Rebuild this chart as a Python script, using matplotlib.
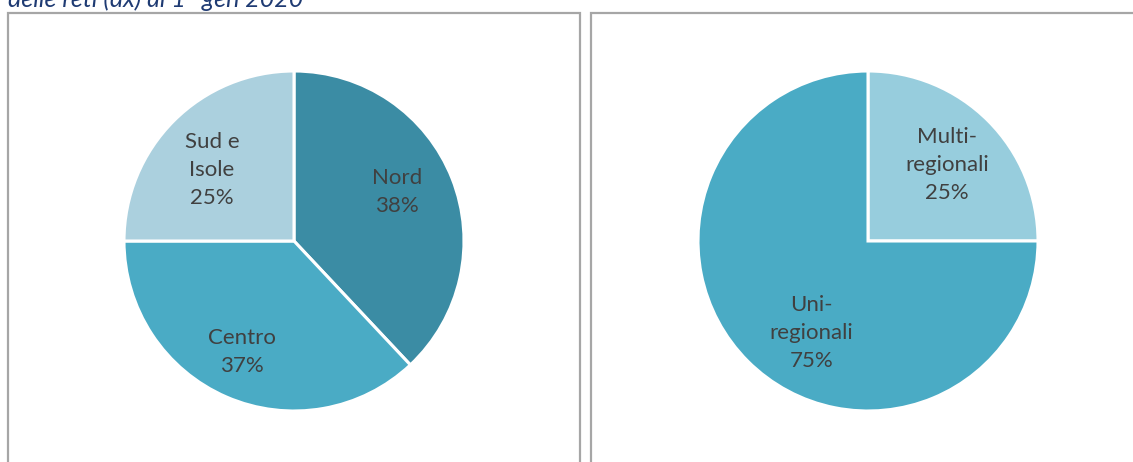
import numpy as np
import matplotlib
matplotlib.use("Agg")
import matplotlib.pyplot as plt
from matplotlib.patches import Rectangle

# Quote per area geografica (sx) e per estensione delle reti (dx)
aree = ["Nord", "Centro", "Sud e\nIsole"]
quote_aree = [38, 37, 25]
colori_aree = ["#3b8ca4", "#4aabc5", "#abd0de"]

reti = ["Multi-\nregionali", "Uni-\nregionali"]
quote_reti = [25, 75]
colori_reti = ["#97cddd", "#4aabc5"]

titolo = "delle reti (dx) al 1° gen 2020"

W, H = 1133, 462
plt.rcParams["font.family"] = ["Lato", "DejaVu Sans"]

fig = plt.figure(figsize=(W / 100, H / 100), dpi=100)


def px_rect(x0, y0, x1, y1):
    # pixel box (top-left origin) -> figure fraction [l, b, w, h]
    return [x0 / W, 1 - y1 / H, (x1 - x0) / W, (y1 - y0) / H]


def draw_pie(ax, values, labels, colors, nudges):
    wedges, _ = ax.pie(values, colors=colors, startangle=90, counterclock=False,
                       wedgeprops=dict(edgecolor="white", linewidth=2.2))
    # labels sit inside each slice, around its mid angle (small per-slice nudge)
    for w, lab, v, (dang, r) in zip(wedges, labels, values, nudges):
        mid = np.deg2rad((w.theta1 + w.theta2) / 2 + dang)
        ax.text(r * np.cos(mid), r * np.sin(mid), f"{lab}\n{v}%", ha="center", va="center",
                fontsize=16, color="#404040", linespacing=1.5)
    ax.set_xlim(-1, 1)
    ax.set_ylim(-1, 1)
    ax.set_aspect("equal")
    ax.axis("off")


# panel frames
for x0, x1 in [(8, 580), (591, W + 10)]:
    l, b, w, h = px_rect(x0, 13, x1, H + 10)
    fig.add_artist(Rectangle((l, b), w, h, transform=fig.transFigure, fill=False,
                             edgecolor="#a6a6a6", linewidth=1.6, clip_on=False))

ax1 = fig.add_axes(px_rect(123.5, 71, 464.5, 411))
draw_pie(ax1, quote_aree, aree, colori_aree, [(4, 0.67), (-2, 0.72), (4, 0.64)])

ax2 = fig.add_axes(px_rect(698, 71, 1038, 411))
draw_pie(ax2, quote_reti, reti, colori_reti, [(-1, 0.645), (13.5, 0.635)])

fig.text(8 / W, 1 - 7 / H, titolo, ha="left", va="baseline", fontsize=18, style="italic",
         color="#1f3b73")

fig.savefig("out.png", dpi=100)
